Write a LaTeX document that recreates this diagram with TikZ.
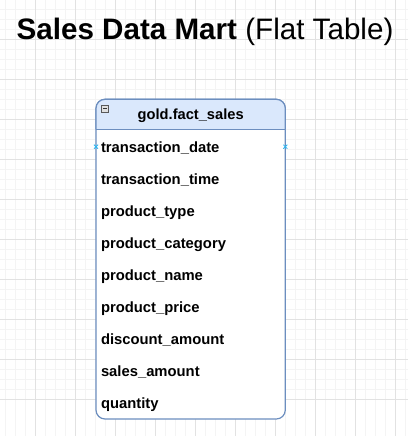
\documentclass[tikz,border=0pt]{standalone}
\usepackage{fontspec}
\setmainfont{Liberation Sans}
\usepackage{tikz}
\usetikzlibrary{positioning}

\definecolor{headblue}{HTML}{DAE8FC}
\definecolor{edgeblue}{HTML}{6C8EBF}
\definecolor{gridminor}{HTML}{F4F4F4}
\definecolor{gridmajor}{HTML}{E2E2E2}
\definecolor{pinblue}{HTML}{29B6F2}

\begin{document}
\begin{tikzpicture}[x=0.75pt, y=-0.75pt, node distance=0pt,
    fieldnode/.style={anchor=west, inner sep=0pt, outer sep=0pt, minimum height=24pt,
      text height=8pt, text depth=2.5pt, font=\fontsize{11.1}{13}\selectfont\bfseries},
    headnode/.style={inner sep=0pt, font=\fontsize{11}{13}\selectfont\bfseries},
    pinmark/.style={draw=pinblue, line width=0.6pt}]
  \useasboundingbox (0,0) rectangle (408,436);
  \fill[white] (0,0) rectangle (408,436);
  % grid
  \foreach \g in {5.7,15.7,...,405.7} {
    \draw[gridminor, line width=0.75pt] (\g,0) -- (\g,436);
    \draw[gridminor, line width=0.75pt] (0,\g-6.4) -- (408,\g-6.4);
  }
  \foreach \g in {35.7,75.7,...,395.7} \draw[gridmajor, line width=0.75pt] (\g,0) -- (\g,436);
  \foreach \g in {39.3,79.3,...,439.3} \draw[gridmajor, line width=0.75pt] (0,\g) -- (408,\g);

  % title
  \node[anchor=base, inner sep=0pt, font=\fontsize{22.2}{26}\selectfont] (title) at (205,39.3)
    {\textbf{Sales Data Mart} (Flat Table)};

  % table
  \coordinate (tnw) at (96,99.3);
  \coordinate (tse) at (285.3,419);
  \coordinate (hsw) at (96,129.3);
  \draw[edgeblue, line width=0.9pt, fill=white, rounded corners=6.75pt] (tnw) rectangle (tse);
  \draw[edgeblue, line width=0.9pt, fill=headblue, rounded corners=6.75pt]
    (hsw) -- (tnw) -- (tnw -| tse) -- (hsw -| tse);
  \draw[edgeblue, line width=0.9pt] (hsw) -- (hsw -| tse);
  \node[headnode, anchor=base] (head) at (190.7,119.3) {gold.fact\_sales};
  % collapse box
  \node[draw=black!65, fill=black!12, line width=0.5pt, inner sep=0pt,
    minimum size=5pt] (fold) at (105,108.5) {};
  \draw[black!80, line width=0.8pt] ([xshift=-1.5pt]fold.center) -- ([xshift=1.5pt]fold.center);

  % fields
  \node[fieldnode, anchor=base west] (f1) at (101,152.3) {transaction\_date};
  \node[fieldnode] (f2) [below=of f1.south west, anchor=north west] {transaction\_time};
  \node[fieldnode] (f3) [below=of f2.south west, anchor=north west] {product\_type};
  \node[fieldnode] (f4) [below=of f3.south west, anchor=north west] {product\_category};
  \node[fieldnode] (f5) [below=of f4.south west, anchor=north west] {product\_name};
  \node[fieldnode] (f6) [below=of f5.south west, anchor=north west] {product\_price};
  \node[fieldnode] (f7) [below=of f6.south west, anchor=north west] {discount\_amount};
  \node[fieldnode] (f8) [below=of f7.south west, anchor=north west] {sales\_amount};
  \node[fieldnode] (f9) [below=of f8.south west, anchor=north west] {quantity};

  % connection points
  \coordinate (pl) at (96,146.7);
  \coordinate (pr) at (285.3,146.7);
  \draw[pinmark] ([shift={(-2,-2)}]pl) -- ([shift={(2,2)}]pl) ([shift={(-2,2)}]pl) -- ([shift={(2,-2)}]pl);
  \draw[pinmark] ([shift={(-2,-2)}]pr) -- ([shift={(2,2)}]pr) ([shift={(-2,2)}]pr) -- ([shift={(2,-2)}]pr);
\end{tikzpicture}
\end{document}
